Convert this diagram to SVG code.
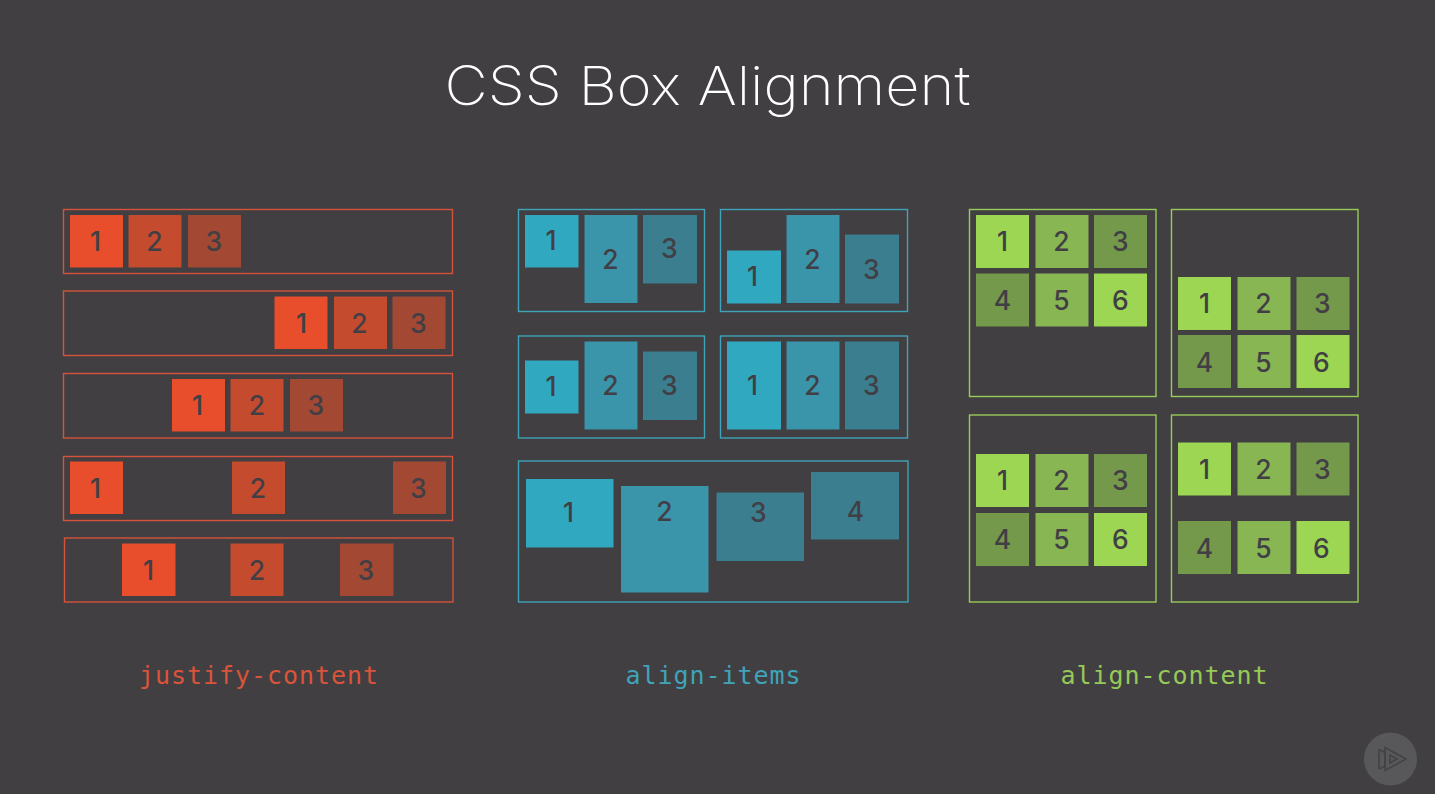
<svg xmlns="http://www.w3.org/2000/svg" width="1435" height="794" viewBox="0 0 1435 794">
<style>
.f{fill:none;stroke-width:1.4}
.fr{stroke:#d4533a}.fb{stroke:#3fa3ba}.fg{stroke:#98cc58}
.n{font-family:Inter,"Noto Sans",sans-serif;font-size:26.500px;font-weight:500;fill:#413f45;text-anchor:middle;transform:translate(-.6px,0)}
.l{font-family:"DejaVu Sans Mono","Liberation Mono",monospace;font-size:25px;text-anchor:middle}
.r1{fill:#e84e2b}.r2{fill:#c44b2d}.r3{fill:#a24833}
.b1{fill:#30a9c0}.b2{fill:#3a94aa}.b3{fill:#3b7e8f}
.g1{fill:#9cd652}.g2{fill:#88b652}.g3{fill:#75994a}
</style>
<rect width="1435" height="794" fill="#413f42"/>
<text id="title" x="707.500" y="105" text-anchor="middle" font-family="Inter,'Noto Sans',sans-serif" font-weight="200" font-size="54" fill="#ffffff" textLength="526" lengthAdjust="spacingAndGlyphs">CSS Box Alignment</text>

<g id="justify-content">
<g id="jc1"><rect class="f fr" x="63.500" y="209.500" width="389" height="64"/>
<rect class="r1" x="70" y="215" width="53" height="52.500"/><text class="n" x="96" y="250.500">1</text>
<rect class="r2" x="128.500" y="215" width="53" height="52.500"/><text class="n" x="155" y="250.500">2</text>
<rect class="r3" x="188" y="215" width="53" height="52.500"/><text class="n" x="214.500" y="250.500">3</text></g>
<g id="jc2"><rect class="f fr" x="63.500" y="291" width="389" height="64.500"/>
<rect class="r1" x="274.500" y="296.500" width="53" height="52.500"/><text class="n" x="302" y="332.500">1</text>
<rect class="r2" x="334" y="296.500" width="53" height="52.500"/><text class="n" x="360" y="332.500">2</text>
<rect class="r3" x="392.500" y="296.500" width="53" height="52.500"/><text class="n" x="419" y="332.500">3</text></g>
<g id="jc3"><rect class="f fr" x="63.500" y="373.500" width="389" height="64.500"/>
<rect class="r1" x="172" y="379" width="53" height="52.500"/><text class="n" x="198" y="415">1</text>
<rect class="r2" x="230.500" y="379" width="53" height="52.500"/><text class="n" x="257.500" y="415">2</text>
<rect class="r3" x="290" y="379" width="53" height="52.500"/><text class="n" x="316.500" y="415">3</text></g>
<g id="jc4"><rect class="f fr" x="63.500" y="456.500" width="389" height="64"/>
<rect class="r1" x="70" y="461.500" width="53" height="52.500"/><text class="n" x="96" y="498">1</text>
<rect class="r2" x="232" y="461.500" width="53" height="52.500"/><text class="n" x="258.500" y="498">2</text>
<rect class="r3" x="393" y="461.500" width="53" height="52.500"/><text class="n" x="419" y="498">3</text></g>
<g id="jc5"><rect class="f fr" x="64.500" y="538" width="388.500" height="64"/>
<rect class="r1" x="122" y="543.500" width="53.500" height="52.500"/><text class="n" x="149" y="580">1</text>
<rect class="r2" x="230.500" y="543.500" width="53" height="52.500"/><text class="n" x="257.500" y="580">2</text>
<rect class="r3" x="340" y="543.500" width="53.500" height="52.500"/><text class="n" x="366.500" y="580">3</text></g>
</g>

<g id="align-items">
<g id="ai1"><rect class="f fb" x="518.500" y="209.500" width="186" height="102"/>
<rect class="b1" x="525" y="215" width="53.500" height="52.500"/><text class="n" x="551.500" y="250">1</text>
<rect class="b2" x="584.500" y="215" width="53" height="88"/><text class="n" x="611" y="269">2</text>
<rect class="b3" x="643" y="215" width="54" height="68.500"/><text class="n" x="670" y="258">3</text></g>
<g id="ai2"><rect class="f fb" x="720.500" y="209.500" width="187" height="102"/>
<rect class="b1" x="727" y="250.500" width="54" height="53"/><text class="n" x="753" y="286">1</text>
<rect class="b2" x="786.500" y="215" width="53" height="88"/><text class="n" x="813" y="269">2</text>
<rect class="b3" x="845" y="234.500" width="54" height="69"/><text class="n" x="872" y="279">3</text></g>
<g id="ai3"><rect class="f fb" x="518.500" y="336" width="186" height="102"/>
<rect class="b1" x="525" y="360.500" width="53.500" height="53"/><text class="n" x="551.500" y="396">1</text>
<rect class="b2" x="584.500" y="341.500" width="53" height="88"/><text class="n" x="611" y="395">2</text>
<rect class="b3" x="643" y="351.500" width="54" height="68.500"/><text class="n" x="670" y="395">3</text></g>
<g id="ai4"><rect class="f fb" x="720.500" y="336" width="187" height="102"/>
<rect class="b1" x="727" y="341.500" width="54" height="88"/><text class="n" x="753" y="395">1</text>
<rect class="b2" x="786.500" y="341.500" width="53" height="88"/><text class="n" x="813" y="395">2</text>
<rect class="b3" x="845" y="341.500" width="54" height="88"/><text class="n" x="872" y="395">3</text></g>
<g id="ai5"><rect class="f fb" x="518.500" y="461" width="389.500" height="141"/>
<rect class="b1" x="526" y="479" width="87.500" height="68.500"/><text class="n" x="569" y="522">1</text>
<rect class="b2" x="621" y="486" width="87.500" height="106.500"/><text class="n" x="665" y="521">2</text>
<rect class="b3" x="716.500" y="492.500" width="87.500" height="68.500"/><text class="n" x="759" y="522">3</text>
<rect class="b3" x="811" y="472" width="88" height="67.500"/><text class="n" x="856" y="521">4</text></g>
</g>

<g id="align-content">
<g id="ac1"><rect class="f fg" x="969.500" y="209.500" width="186.500" height="187"/>
<rect class="g1" x="976" y="215" width="53" height="53"/><text class="n" x="1003" y="250.500">1</text>
<rect class="g2" x="1035.500" y="215" width="53" height="53"/><text class="n" x="1062" y="250.500">2</text>
<rect class="g3" x="1094" y="215" width="53" height="53"/><text class="n" x="1121" y="250.500">3</text>
<rect class="g3" x="976" y="273.500" width="53" height="53"/><text class="n" x="1003" y="309.500">4</text>
<rect class="g2" x="1035.500" y="273.500" width="53" height="53"/><text class="n" x="1062" y="309.500">5</text>
<rect class="g1" x="1094" y="273.500" width="53" height="53"/><text class="n" x="1121" y="309.500">6</text></g>
<g id="ac2"><rect class="f fg" x="1171.500" y="209.500" width="186.500" height="187"/>
<rect class="g1" x="1178" y="277" width="53" height="53"/><text class="n" x="1205" y="313">1</text>
<rect class="g2" x="1237.500" y="277" width="53" height="53"/><text class="n" x="1264" y="313">2</text>
<rect class="g3" x="1296.500" y="277" width="53" height="53"/><text class="n" x="1323" y="313">3</text>
<rect class="g3" x="1178" y="335" width="53" height="53"/><text class="n" x="1205" y="372">4</text>
<rect class="g2" x="1237.500" y="335" width="53" height="53"/><text class="n" x="1264" y="372">5</text>
<rect class="g1" x="1296.500" y="335" width="53" height="53"/><text class="n" x="1322" y="372">6</text></g>
<g id="ac3"><rect class="f fg" x="969.500" y="415" width="186.500" height="187"/>
<rect class="g1" x="976" y="454" width="53" height="53"/><text class="n" x="1003" y="490">1</text>
<rect class="g2" x="1035.500" y="454" width="53" height="53"/><text class="n" x="1062" y="490">2</text>
<rect class="g3" x="1094" y="454" width="53" height="53"/><text class="n" x="1121" y="490">3</text>
<rect class="g3" x="976" y="513" width="53" height="53"/><text class="n" x="1003" y="549">4</text>
<rect class="g2" x="1035.500" y="513" width="53" height="53"/><text class="n" x="1062" y="549">5</text>
<rect class="g1" x="1094" y="513" width="53" height="53"/><text class="n" x="1121" y="549">6</text></g>
<g id="ac4"><rect class="f fg" x="1171.500" y="415" width="186.500" height="187"/>
<rect class="g1" x="1178" y="442.500" width="53" height="53"/><text class="n" x="1205" y="479">1</text>
<rect class="g2" x="1237.500" y="442.500" width="53" height="53"/><text class="n" x="1264" y="479">2</text>
<rect class="g3" x="1296.500" y="442.500" width="53" height="53"/><text class="n" x="1323" y="479">3</text>
<rect class="g3" x="1178" y="521" width="53" height="53"/><text class="n" x="1205" y="558">4</text>
<rect class="g2" x="1237.500" y="521" width="53" height="53"/><text class="n" x="1264" y="558">5</text>
<rect class="g1" x="1296.500" y="521" width="53" height="53"/><text class="n" x="1322" y="558">6</text></g>
</g>

<text class="l" x="258.500" y="684" fill="#d9543a" textLength="239">justify-content</text>
<text class="l" x="713" y="684" fill="#3fa3ba" textLength="175">align-items</text>
<text class="l" x="1164" y="684" fill="#96c957" textLength="207">align-content</text>

<g id="logo">
<circle cx="1390.500" cy="759" r="26.500" fill="#58585a"/>
<path d="M1379 749.500V769M1379 749.500L1385 752.500V766L1379 769" fill="none" stroke="#434246" stroke-width="1.600"/>
<path d="M1385 747.500L1406 759L1385 770.500Z M1390 755L1397 759L1390 763Z" fill="none" stroke="#434246" stroke-width="1.600"/>
</g>
</svg>
